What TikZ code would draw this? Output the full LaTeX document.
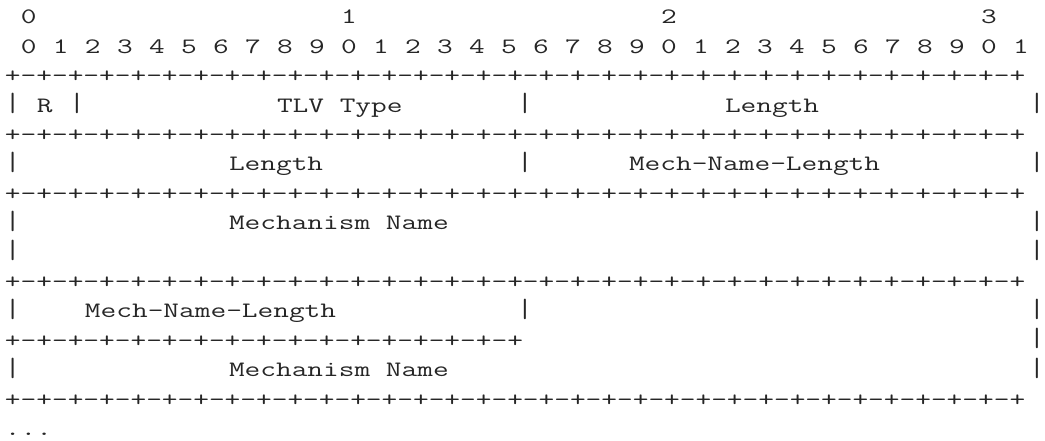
\documentclass[tikz,border=0pt]{standalone}
\usepackage{graphicx}
\newcommand{\wide}[1]{\scalebox{1.3853}[1]{#1}}
\newcommand{\vbar}{\raisebox{0.6pt}{\scalebox{1.3853}[1.2]{|}}}
\newcommand{\ruler}[1]{\foreach \k in {1,...,#1}{+-}+}

\begin{document}
\begin{tikzpicture}[x=16pt,y=-29.4pt,
  cell/.style={anchor=base west,inner sep=0pt,outer sep=0pt,text=black!85,font=\fontsize{22}{29.4}\selectfont\ttfamily}]
\useasboundingbox (-0.3125,-0.8163) rectangle (65,14.1837);
% bit numbers
\foreach \d/\c in {0/1,1/21,2/41,3/61}
  \node[cell] (tens\d) at (\c,0) {\wide{\d}};
\foreach \i in {0,...,31}{
  \pgfmathtruncatemacro{\u}{mod(\i,10)}
  \node[cell] (bit\i) at (2*\i+1,1) {\wide{\u}};
}
% separator lines
\foreach \r in {2,4,6,9,13}
  \node[cell] (sep\r) at (0,\r) {\wide{\ruler{32}}};
\node[cell] (sep11) at (0,11) {\wide{\ruler{16}}};
% field borders
\foreach \c/\r in {0/3,4/3,32/3,64/3,0/5,32/5,64/5,0/7,64/7,0/8,64/8,0/10,32/10,64/10,64/11,0/12,64/12}
  \node[cell] (bar\r-\c) at (\c,\r) {\vbar};
% field names
\node[cell] (rflag) at (2,3) {\wide{R}};
\node[cell] (tlvtype) at (17,3) {\wide{TLV Type}};
\node[cell] (lenhi) at (45,3) {\wide{Length}};
\node[cell] (lenlo) at (14,5) {\wide{Length}};
\node[cell] (mnlen1) at (39,5) {\wide{Mech-Name-Length}};
\node[cell] (mname1) at (14,7) {\wide{Mechanism Name}};
\node[cell] (mnlen2) at (5,10) {\wide{Mech-Name-Length}};
\node[cell] (mname2) at (14,12) {\wide{Mechanism Name}};
\node[cell] (more) at (0,14) {\wide{...}};
\end{tikzpicture}
\end{document}
